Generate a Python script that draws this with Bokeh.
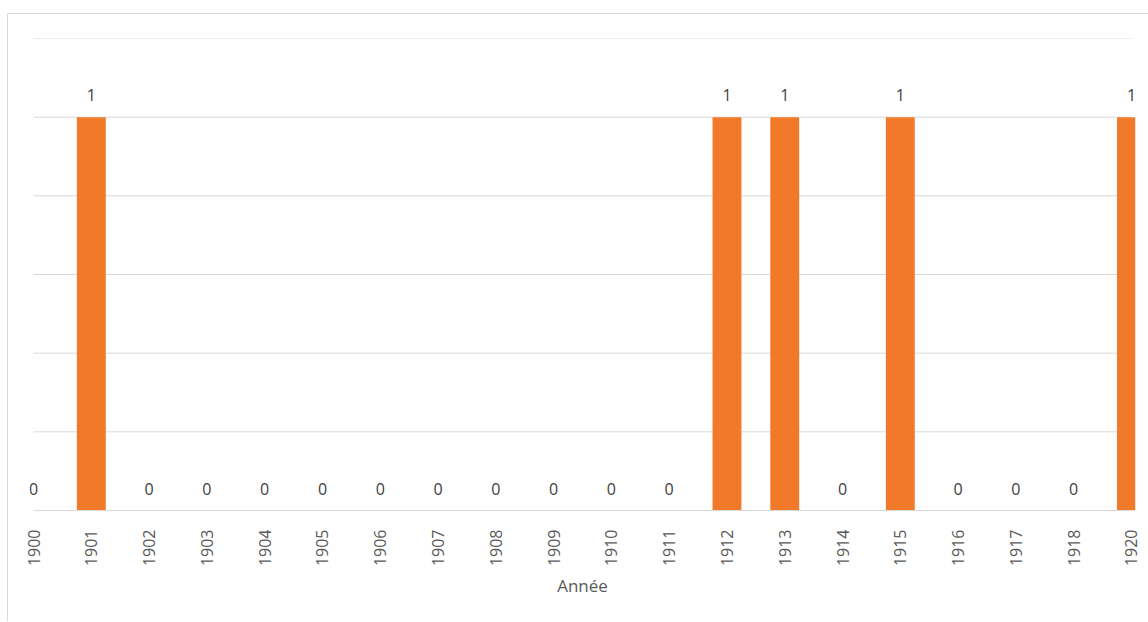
from bokeh.plotting import figure
from bokeh.models import ColumnDataSource, FixedTicker, Label, Range1d
from bokeh.embed import file_html
from bokeh.resources import INLINE
import math

# Data
years = ["1900", "1901", "1902", "1903", "1904", "1905", "1906", "1907", "1908", "1909",
         "1910", "1911", "1912", "1913", "1914", "1915", "1916", "1917", "1918", "1920"]
counts = [0, 1, 0, 0, 0, 0, 0, 0, 0, 0,
          0, 0, 1, 1, 0, 1, 0, 0, 0, 1]
grid_values = [0.2, 0.4, 0.6, 0.8, 1.0, 1.2]
x_label = "Année"

pos = list(range(len(years)))
src = ColumnDataSource(dict(x=pos, y=counts, year=years))
last = len(years) - 1
pad = 0.07

W, H = 1141, 608
px_per = 1098 / last
ext = round(pad * px_per)
p = figure(width=W, height=H, output_backend="svg", toolbar_location=None,
           x_range=Range1d(-pad, last + pad), y_range=Range1d(0, 1.2),
           min_border_left=25 - ext, min_border_right=18 - ext,
           min_border_top=24, min_border_bottom=112)
p.margin = (13, 0, 0, 7)
p.styles = {"border-left": "1px solid #d9d9d9", "border-top": "1px solid #d9d9d9"}
p.outline_line_color = None
p.background_fill_color = "white"
p.border_fill_color = "white"

# horizontal gridlines limited to the category span
p.segment(x0=[0] * len(grid_values), x1=[last] * len(grid_values),
          y0=grid_values, y1=grid_values, line_color="#d9d9d9", line_width=1)

p.vbar(x="x", top="y", bottom=0, width=0.5, source=src,
       fill_color="#F07A2A", line_color=None)

for xi, yi in zip(pos, counts):
    p.add_layout(Label(x=xi, y=yi, text=str(yi), text_align="center",
                       text_baseline="bottom", y_offset=16, text_font_size="16px",
                       text_color="#404040", text_font="Open Sans"))

p.yaxis.visible = False
p.ygrid.grid_line_color = None
p.xgrid.grid_line_color = None

ax = p.xaxis[0]
ax.bounds = (0, last)
ax.ticker = FixedTicker(ticks=pos)
ax.major_label_overrides = {i: y for i, y in zip(pos, years)}
ax.major_label_orientation = math.pi / 2
ax.major_tick_line_color = None
ax.minor_tick_line_color = None
ax.axis_line_color = "#d9d9d9"
ax.major_label_text_color = "#595959"
ax.major_label_text_font = "Open Sans"
ax.major_label_text_font_size = "16px"
ax.major_label_standoff = 13
ax.axis_label = x_label
ax.axis_label_text_font = "Open Sans"
ax.axis_label_text_font_style = "normal"
ax.axis_label_text_font_size = "17px"
ax.axis_label_text_color = "#595959"
ax.axis_label_standoff = 5

open("out.html", "w").write(file_html(p, INLINE))
